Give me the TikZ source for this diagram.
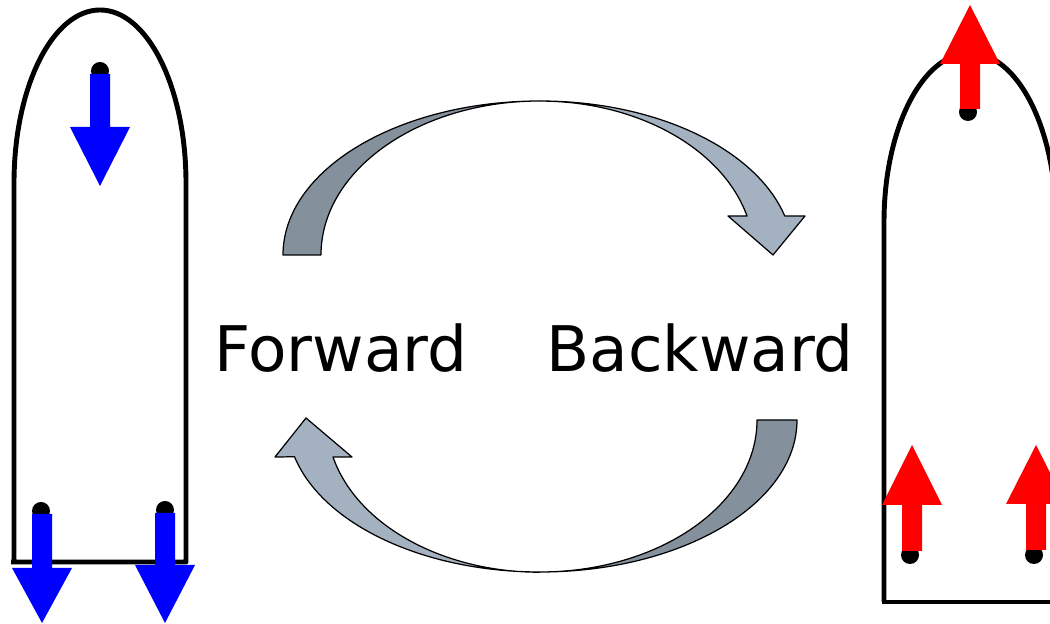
\documentclass[tikz,border=0pt]{standalone}
\usepackage{fontspec}
\setmainfont{DejaVu Sans}
\definecolor{slatedark}{RGB}{132,144,156}
\definecolor{slatelight}{RGB}{163,177,192}
\tikzset{
  vessel/.style={line width=2.8pt, line join=round},
  cyclearrow/.style={draw=black, line width=0.7pt, line join=round},
  word/.style={font=\fontsize{35.8}{43}\selectfont, anchor=base}
}
% block arrow along x = #2: colour #1, tail #3, head base #4, tip #5
\newcommand{\forcearrow}[5]{%
  \fill[#1] (#2-10,#3) -- (#2-10,#4) -- (#2-30,#4) -- (#2,#5)
    -- (#2+30,#4) -- (#2+10,#4) -- (#2+10,#3) -- cycle;}

\begin{document}
\begin{tikzpicture}[x=0.02cm, y=0.02cm]
      \clip (0,0) rectangle (1050,624);
      \fill[white] (0,0) rectangle (1050,624);
      % left vessel
      \draw[vessel] (11,62) -- (186,62) -- (186,441)
        arc[start angle=0, end angle=180, x radius=86, y radius=173] -- (14,62);
      % blue arrows pointing down
      \fill (100,553) circle[radius=9];
      \fill (41,113) circle[radius=9];
      \fill (165,114) circle[radius=9];
      \forcearrow{blue}{100}{550}{497}{438}
      \forcearrow{blue}{42}{110}{56}{1}
      \forcearrow{blue}{165}{111}{59}{1}
      % right vessel
      \draw[vessel] (882,22) -- (1070,22);
      \draw[vessel] (884,22) -- (884,402)
        arc[start angle=180, end angle=0, x radius=86, y radius=169] -- (1056,22);
      % red arrows pointing up
      \fill (968,512) circle[radius=9];
      \fill (910,69) circle[radius=9];
      \fill (1034,69) circle[radius=9];
      \forcearrow{red}{970}{515}{560}{619}
      \forcearrow{red}{912}{73}{119}{179}
      \forcearrow{red}{1036}{74}{120}{179}
      % upper curved arrow
      \draw[cyclearrow, fill=slatedark] (283,369)
        arc[start angle=180, end angle=90, x radius=257, y radius=154]
        arc[start angle=90, end angle=180, x radius=219, y radius=154] -- cycle;
      \draw[cyclearrow, fill=slatelight] (540,523)
        arc[start angle=90, end angle=14.7, x radius=253, y radius=154]
        -- (805,408) -- (773,369) -- (728,408) -- (747,408)
        arc[start angle=14.7, end angle=90, x radius=214, y radius=154];
      % lower curved arrow
      \draw[cyclearrow, fill=slatedark] (797,204)
        arc[start angle=0, end angle=-90, x radius=257, y radius=152]
        arc[start angle=-90, end angle=0, x radius=217, y radius=152] -- cycle;
      \draw[cyclearrow, fill=slatelight] (540,52)
        arc[start angle=270, end angle=194, x radius=253, y radius=152]
        -- (275,167) -- (306,206) -- (352,167) -- (333,167)
        arc[start angle=194, end angle=270, x radius=213, y radius=152];
      % labels
      \node[word] (fwd) at (341,252) {Forward};
      \node[word] (bwd) at (700,252) {Backward};
    \end{tikzpicture}
\end{document}
